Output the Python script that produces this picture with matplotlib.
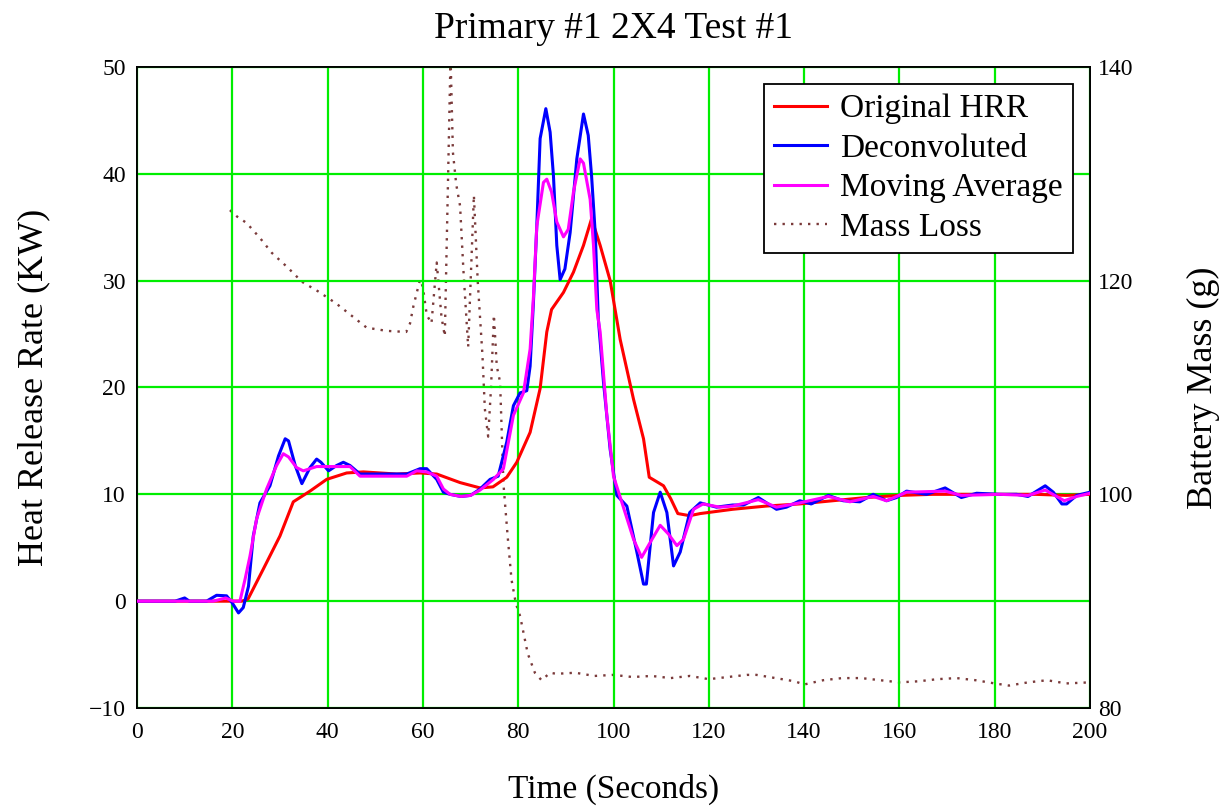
import matplotlib
matplotlib.use("Agg")
import matplotlib.pyplot as plt

plt.rcParams['font.family'] = ['Liberation Serif', 'DejaVu Serif']

# Original HRR (red)
t_orig = [0, 14, 22, 23.3, 26.5, 30, 32.8, 36.3, 39.8, 44, 47.5, 54.5, 59.4, 62.9,
          67.8, 72, 74.7, 77.6, 79.7, 82.5, 84.6, 86, 87, 89.5, 91.6, 93.7, 95.4,
          97.2, 99.3, 101.4, 104.2, 106.3, 107.5, 110.5, 112, 113.5, 116, 118.2,
          125, 132, 139, 146, 153, 160, 167, 175, 182, 188.6, 195, 200]
hrr_orig = [0, 0, 0, 0.2, 3.0, 6.1, 9.3, 10.3, 11.4, 12.0, 12.1, 11.9, 12.0, 11.9,
            11.1, 10.6, 10.7, 11.6, 13.0, 15.8, 19.9, 25.2, 27.3, 28.9, 30.8, 33.3, 35.8,
            33.3, 30.0, 24.5, 18.9, 15.2, 11.6, 10.8, 9.6, 8.2, 8.0, 8.2,
            8.6, 8.9, 9.1, 9.4, 9.7, 9.9, 10.0, 10.0, 10.0, 10.0, 9.9, 10.0]

# Deconvoluted (blue)
t_dec = [0, 8, 10, 11, 14.6, 16.7, 18.8, 19.9, 21.3, 22.3, 23.4, 24.4, 25.8, 27.9,
         29.7, 31.1, 31.8, 33.2, 34.6, 36.3, 37.7, 38.6, 40.2, 41.9, 43.3, 44.7, 46.8,
         56.6, 59.4, 60.8, 62.9, 64.3, 65.7, 68, 70, 72, 74.1, 75.8, 77.6, 79, 80.4,
         81.8, 82.5, 83.2, 83.9, 84.6, 85.8, 86.7, 87.4, 88.1, 88.8, 89.8, 90.9, 92.3,
         93.7, 94.7, 95.4, 96.2, 96.8, 97.9, 99.3, 100.7, 102.8, 104.9, 106.3, 106.9,
         108.4, 109.8, 111.2, 112.6, 114, 116, 118.2, 121.6, 125, 127.3, 130.4, 134.2,
         136.3, 139.1, 141.5, 145.1, 148.2, 151.7, 154.5, 157.3, 159.4, 161.5, 165.7,
         169.6, 173, 176.2, 181.1, 184.6, 187, 190.6, 192.3, 194.1, 195.1, 197.2, 200]
hrr_dec = [0, 0, 0.3, 0, 0, 0.55, 0.5, -0.1, -1.1, -0.6, 1.4, 6.1, 9.2, 10.8,
           13.6, 15.2, 15.0, 12.7, 11.0, 12.5, 13.3, 13.0, 12.2, 12.7, 13.0, 12.7, 11.9,
           11.9, 12.4, 12.4, 11.4, 10.2, 10.0, 9.8, 9.9, 10.5, 11.4, 11.7, 14.9, 18.3, 19.5,
           19.7, 22.0, 28.0, 35.1, 43.3, 46.1, 43.9, 39.8, 33.3, 30.1, 31.1, 34.5, 41.4,
           45.6, 43.6, 39.8, 34.2, 26.5, 20.5, 14.2, 9.9, 8.9, 4.6, 1.6, 1.6,
           8.3, 10.2, 8.3, 3.3, 4.6, 8.3, 9.2, 8.8, 9.0, 9.0, 9.7, 8.6,
           8.8, 9.4, 9.1, 9.9, 9.4, 9.3, 10.0, 9.4, 9.7, 10.3, 10.0,
           10.6, 9.7, 10.1, 10.0, 10.0, 9.8, 10.8, 10.2, 9.1, 9.1, 9.9, 10.2]

# Moving Average (magenta)
t_avg = [0, 16, 18.6, 20.2, 21.6, 22.7, 23.7, 25.1, 27.2, 29.3, 30.7, 31.8, 33.5, 34.9,
         37.7, 40.5, 44.7, 46.8, 56.6, 58.7, 60.8, 62.9, 64.3, 65.7, 68, 70, 72, 74.8,
         76.9, 79, 81.1, 82.5, 83.2, 83.9, 85.3, 86, 87, 88.1, 89.5, 90.5, 91.6, 93,
         93.7, 95.1, 95.8, 96.5, 97.2, 98.6, 100, 102, 104.2, 105.9, 107.7, 109.8,
         111.5, 113.3, 114.7, 116.8, 118.8, 122.3, 125, 130.4, 134.2, 139.1, 145.1,
         149.6, 154.5, 157.3, 161.5, 169.6, 173, 181.1, 187, 190.6, 194.6, 197.2, 200]
hrr_avg = [0, 0, 0.3, 0, 0, 2.1, 4.2, 7.7, 10.5, 12.7, 13.8, 13.5, 12.5, 12.2,
           12.6, 12.6, 12.6, 11.7, 11.7, 12.2, 12.1, 11.7, 10.5, 10.0, 9.8, 9.9, 10.4, 11.4,
           12.4, 17.4, 19.5, 23.6, 28.5, 35.1, 39.2, 39.5, 38.3, 35.5, 34.1, 34.8, 38.3, 41.4,
           41.0, 37.6, 33.3, 27.3, 25.2, 17.4, 11.7, 8.9, 5.8, 4.1, 5.5, 7.1,
           6.3, 5.2, 5.8, 8.6, 9.1, 8.8, 8.9, 9.5, 8.8, 9.2, 9.8,
           9.3, 9.8, 9.4, 10.2, 10.3, 9.9, 10.0, 9.9, 10.4, 9.4, 9.8, 10.1]

# Mass loss (right axis, grams)
t_mass = [19.5, 21, 23, 25.8, 28.3, 31.7, 34.6, 38, 41.7, 45.1, 48.2, 52.4, 56.5,
          57.3, 58.0, 59.4, 60.0, 60.8, 61.8, 62.9, 63.9, 64.6, 65.3, 65.8, 66.3, 67,
          67.8, 68.5, 69.5, 70.7, 71.5, 72.5, 73.0, 73.7, 74.3, 74.9, 75.5, 76.2, 76.9,
          77.8, 78.6, 79.5, 80.4, 82, 83.5, 84.9, 86.7, 88, 92, 96, 100, 104, 108, 112,
          116, 120, 124, 128, 130, 134, 138, 140, 144, 148, 152, 156, 160, 164, 168,
          172, 176, 180, 183, 187, 191, 195, 200]
mass = [126.6, 126.0, 125.4, 124.0, 122.6, 121.2, 119.9, 119.0, 117.9, 116.7, 115.6, 115.3, 115.2,
        116.0, 117.6, 120.1, 119.4, 116.8, 116.0, 121.7, 116.6, 114.8, 130.0, 141.0, 132.0, 129.0,
        127.0, 121.0, 113.8, 128.0, 120.0, 113.0, 108.0, 105.4, 110.0, 116.8, 112.0, 110.5, 101.0,
        96.0, 92.0, 89.8, 88.6, 85.1, 83.3, 82.6, 83.3, 83.2, 83.3, 83.0, 83.1, 82.9, 83.0, 82.8,
        83.0, 82.7, 82.9, 83.1, 83.1, 82.8, 82.5, 82.2, 82.6, 82.8, 82.8, 82.6, 82.4, 82.5, 82.7,
        82.8, 82.6, 82.3, 82.1, 82.4, 82.6, 82.3, 82.4]

x_ticks = [0, 20, 40, 60, 80, 100, 120, 140, 160, 180, 200]
hrr_ticks = [-10, 0, 10, 20, 30, 40, 50]
mass_ticks = [80, 100, 120, 140]

grid_green = '#00ee00'

fig = plt.figure(figsize=(12.19, 8.06), dpi=100)
ax = fig.add_axes([137/1219, 1 - 708/806, (1090 - 137)/1219, (708 - 67)/806])
ax2 = ax.twinx()

l1, = ax.plot(t_orig, hrr_orig, color='#ff0000', lw=2.2, label='Original HRR', zorder=3)
l2, = ax.plot(t_dec, hrr_dec, color='#0000ff', lw=2.2, label='Deconvoluted', zorder=4)
l3, = ax.plot(t_avg, hrr_avg, color='#ff00ff', lw=2.2, label='Moving Average', zorder=5)
l4, = ax2.plot(t_mass, mass, color='#7a3a3a', lw=1.7, dashes=(1, 2.6), label='Mass Loss')

ax.set_xlim(0, 200)
ax.set_ylim(-10, 50)
ax2.set_ylim(80, 140)
ax.set_xticks(x_ticks)
ax.set_yticks(hrr_ticks)
ax2.set_yticks(mass_ticks)

ax.grid(True, color=grid_green, lw=1.6, zorder=0)
ax.set_axisbelow(True)
ax.tick_params(axis='x', length=0, labelsize=17, pad=10)
ax.tick_params(axis='y', length=0, labelsize=17, pad=8)
ax2.tick_params(axis='y', direction='in', length=8, width=1.2, labelsize=17, pad=6)

for sp in list(ax.spines.values()) + list(ax2.spines.values()):
    sp.set_color('black')
    sp.set_linewidth(1.3)

ax.set_title('Primary #1 2X4 Test #1', fontsize=27, pad=21)
ax.set_xlabel('Time (Seconds)', fontsize=24, labelpad=22)
ax.set_ylabel('Heat Release Rate (KW)', fontsize=26, labelpad=28)
ax2.set_ylabel('Battery Mass (g)', fontsize=26, labelpad=38)

leg = ax.legend(handles=[l1, l2, l3, l4], loc='upper right', bbox_to_anchor=(0.982, 0.9735),
                borderaxespad=0, fontsize=24, handlelength=1.6, handletextpad=0.4,
                labelspacing=0.27, fancybox=False, framealpha=1, edgecolor='black',
                borderpad=0.3)
leg.get_frame().set_linewidth(1.3)
leg.set_zorder(10)
# keep legend on top of the twin axis
ax.set_zorder(ax2.get_zorder() + 1)
ax.patch.set_visible(False)

plt.savefig('out.png', dpi=100)
